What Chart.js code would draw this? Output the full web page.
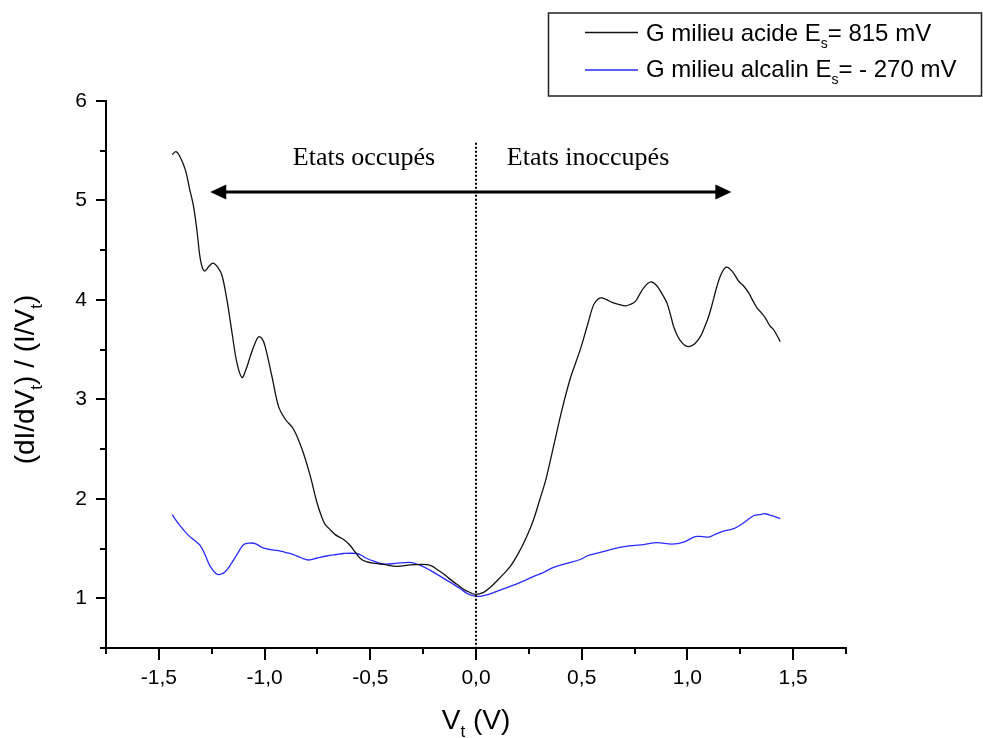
<!DOCTYPE html>
<html>
<head>
<meta charset="utf-8">
<title>Conductance normalisée</title>
<script src="https://cdn.jsdelivr.net/npm/chart.js@4.4.1/dist/chart.umd.min.js"></script>
<style>
  html, body { margin: 0; padding: 0; background: #fff; }
  canvas { display: block; }
</style>
</head>
<body>
<canvas id="chart" width="983" height="738"></canvas>
<script>
// Tension tunnel V_t (V) et conductance normalisée (dI/dV_t)/(I/V_t)
const acideV = [-1.437, -1.419, -1.400, -1.375, -1.355, -1.336, -1.320, -1.303, -1.285, -1.262,
  -1.244, -1.222, -1.202, -1.178, -1.154, -1.131, -1.107, -1.088, -1.068, -1.048,
  -1.028, -1.012, -0.997, -0.965, -0.934, -0.902, -0.863, -0.823, -0.784, -0.752,
  -0.730, -0.713, -0.690, -0.666, -0.626, -0.595, -0.570, -0.547, -0.516, -0.474,
  -0.437, -0.374, -0.311, -0.250, -0.216, -0.184, -0.150, -0.122, -0.090, -0.059,
  -0.030, -0.003, 0.036, 0.068, 0.115, 0.162, 0.210, 0.240, 0.272, 0.300,
  0.330, 0.367, 0.407, 0.446, 0.493, 0.525, 0.556, 0.578, 0.596, 0.620,
  0.643, 0.675, 0.706, 0.730, 0.754, 0.775, 0.793, 0.812, 0.831, 0.852,
  0.872, 0.903, 0.920, 0.935, 0.955, 0.974, 0.990, 1.006, 1.035, 1.061,
  1.080, 1.100, 1.120, 1.140, 1.162, 1.184, 1.211, 1.242, 1.266, 1.290,
  1.310, 1.329, 1.350, 1.368, 1.390, 1.408, 1.439];
const acideG = [5.46, 5.49, 5.44, 5.31, 5.12, 4.94, 4.70, 4.40, 4.29, 4.34,
  4.37, 4.33, 4.25, 4.00, 3.67, 3.37, 3.22, 3.30, 3.43, 3.55,
  3.63, 3.61, 3.53, 3.23, 2.93, 2.80, 2.70, 2.50, 2.23, 1.96,
  1.82, 1.74, 1.69, 1.64, 1.59, 1.53, 1.46, 1.40, 1.365, 1.35,
  1.34, 1.32, 1.335, 1.34, 1.33, 1.29, 1.24, 1.19, 1.14, 1.09,
  1.06, 1.04, 1.06, 1.11, 1.21, 1.32, 1.49, 1.62, 1.79, 1.98,
  2.19, 2.53, 2.90, 3.21, 3.50, 3.73, 3.95, 4.01, 4.02, 4.00,
  3.975, 3.955, 3.94, 3.955, 3.985, 4.06, 4.12, 4.165, 4.18, 4.15,
  4.09, 3.97, 3.85, 3.73, 3.63, 3.57, 3.54, 3.53, 3.56, 3.63,
  3.72, 3.83, 3.98, 4.14, 4.27, 4.33, 4.29, 4.19, 4.14, 4.07,
  3.99, 3.92, 3.87, 3.82, 3.74, 3.70, 3.58];

const alcalinV = [-1.437, -1.400, -1.359, -1.330, -1.304, -1.280, -1.257, -1.230, -1.210, -1.185,
  -1.154, -1.125, -1.099, -1.070, -1.044, -1.010, -0.973, -0.934, -0.900, -0.863,
  -0.830, -0.792, -0.750, -0.706, -0.660, -0.627, -0.563, -0.540, -0.516, -0.480,
  -0.437, -0.380, -0.311, -0.263, -0.220, -0.184, -0.145, -0.106, -0.070, -0.043,
  -0.010, 0.020, 0.060, 0.110, 0.162, 0.210, 0.273, 0.320, 0.367, 0.430,
  0.493, 0.530, 0.564, 0.620, 0.675, 0.740, 0.793, 0.856, 0.927, 0.982,
  1.037, 1.070, 1.100, 1.140, 1.171, 1.219, 1.260, 1.313, 1.340, 1.368,
  1.400, 1.439];
const alcalinG = [1.84, 1.73, 1.63, 1.58, 1.53, 1.43, 1.32, 1.25, 1.24, 1.27,
  1.36, 1.46, 1.54, 1.555, 1.55, 1.51, 1.49, 1.48, 1.46, 1.44,
  1.41, 1.385, 1.405, 1.425, 1.44, 1.45, 1.45, 1.43, 1.40, 1.37,
  1.345, 1.35, 1.36, 1.33, 1.285, 1.24, 1.19, 1.14, 1.09, 1.05,
  1.025, 1.02, 1.04, 1.08, 1.12, 1.16, 1.22, 1.26, 1.31, 1.35,
  1.39, 1.43, 1.45, 1.48, 1.51, 1.53, 1.54, 1.56, 1.545, 1.565,
  1.62, 1.62, 1.615, 1.65, 1.675, 1.70, 1.75, 1.83, 1.84, 1.85,
  1.83, 1.80];

const xMajorTicks = [-1.5, -1.0, -0.5, 0.0, 0.5, 1.0, 1.5];
const xMinorTicks = [-1.75, -1.25, -0.75, -0.25, 0.25, 0.75, 1.25, 1.75];
const yMajorTicks = [1, 2, 3, 4, 5, 6];
const yMinorTicks = [0.5, 1.5, 2.5, 3.5, 4.5, 5.5];

const seriesLabels = [
  [['G milieu acide E', false], ['s', true], ['= 815 mV', false]],
  [['G milieu alcalin E', false], ['s', true], ['= - 270 mV', false]]
];
const seriesColors = ['#111111', '#2a2aff'];
const regionLabels = ['Etats occupés', 'Etats inoccupés'];
const regionLabelX = [-0.53, 0.53];
const regionLabelY = 5.36;
const arrowFrom = -1.257, arrowTo = 1.208, arrowY = 5.086;
const dividerTop = 5.58;

const SANS = '"Liberation Sans", Arial, Helvetica, sans-serif';
const SERIF = '"Liberation Serif", "Times New Roman", serif';

function toPoints(xs, ys) { return xs.map((v, i) => ({ x: v, y: ys[i] })); }

// Text with subscript segments
function drawRich(ctx, parts, x, y, size, align) {
  const subSize = Math.round(size * 0.6);
  let total = 0;
  for (const [t, sub] of parts) {
    ctx.font = (sub ? subSize : size) + 'px ' + SANS;
    total += ctx.measureText(t).width;
  }
  let cx = align === 'center' ? x - total / 2 : x;
  ctx.textAlign = 'left';
  ctx.textBaseline = 'alphabetic';
  for (const [t, sub] of parts) {
    ctx.font = (sub ? subSize : size) + 'px ' + SANS;
    ctx.fillText(t, cx, sub ? y + size * 0.3 : y);
    cx += ctx.measureText(t).width;
  }
}

const decor = {
  id: 'decor',
  afterDatasetsDraw(chart) {
    const { ctx, scales: { x, y } } = chart;
    ctx.save();
    // dotted divider at V_t = 0
    ctx.strokeStyle = '#000';
    ctx.lineWidth = 2;
    ctx.setLineDash([2, 2]);
    ctx.beginPath();
    const x0 = Math.round(x.getPixelForValue(0));
    ctx.moveTo(x0, y.getPixelForValue(dividerTop));
    ctx.lineTo(x0, y.getPixelForValue(y.min));
    ctx.stroke();
    ctx.setLineDash([]);

    // double-headed arrow
    const ay = y.getPixelForValue(arrowY);
    const ax1 = x.getPixelForValue(arrowFrom);
    const ax2 = x.getPixelForValue(arrowTo);
    const hl = 16, hw = 7.5;
    ctx.lineWidth = 3;
    ctx.beginPath();
    ctx.moveTo(ax1 + hl - 2, ay);
    ctx.lineTo(ax2 - hl + 2, ay);
    ctx.stroke();
    ctx.fillStyle = '#000';
    ctx.beginPath();
    ctx.moveTo(ax1, ay); ctx.lineTo(ax1 + hl, ay - hw); ctx.lineTo(ax1 + hl, ay + hw); ctx.closePath();
    ctx.fill();
    ctx.beginPath();
    ctx.moveTo(ax2, ay); ctx.lineTo(ax2 - hl, ay - hw); ctx.lineTo(ax2 - hl, ay + hw); ctx.closePath();
    ctx.fill();

    // region labels
    ctx.font = '26px ' + SERIF;
    ctx.textAlign = 'center';
    ctx.textBaseline = 'alphabetic';
    regionLabels.forEach((t, i) => {
      ctx.fillText(t, x.getPixelForValue(regionLabelX[i]), y.getPixelForValue(regionLabelY));
    });
    ctx.restore();
  },
  afterDraw(chart) {
    const { ctx, scales: { x, y }, chartArea } = chart;
    ctx.save();
    ctx.strokeStyle = '#000';
    ctx.fillStyle = '#000';
    ctx.lineWidth = 2;
    // minor ticks
    ctx.beginPath();
    xMinorTicks.forEach(v => {
      const px = Math.round(x.getPixelForValue(v));
      ctx.moveTo(px, chartArea.bottom);
      ctx.lineTo(px, chartArea.bottom + 6);
    });
    yMinorTicks.forEach(v => {
      const py = Math.round(y.getPixelForValue(v));
      ctx.moveTo(chartArea.left, py);
      ctx.lineTo(chartArea.left - 6, py);
    });
    ctx.stroke();

    // axis titles
    drawRich(ctx, [['V', false], ['t', true], [' (V)', false]],
      (chartArea.left + chartArea.right) / 2, 729, 28, 'center');
    ctx.save();
    ctx.translate(34, (chartArea.top + chartArea.bottom) / 2 + 5);
    ctx.rotate(-Math.PI / 2);
    drawRich(ctx, [['(dI/dV', false], ['t', true], [') / (I/V', false], ['t', true], [')', false]],
      0, 0, 28, 'center');
    ctx.restore();

    // legend box
    ctx.lineWidth = 1.5;
    ctx.strokeStyle = '#222';
    ctx.strokeRect(548.5, 13, 433, 83);
    const rows = [32.5, 70];
    const bases = [41, 77];
    seriesLabels.forEach((parts, i) => {
      ctx.strokeStyle = seriesColors[i];
      ctx.lineWidth = 1.3;
      ctx.beginPath();
      ctx.moveTo(585, rows[i]);
      ctx.lineTo(638, rows[i]);
      ctx.stroke();
      ctx.fillStyle = '#000';
      drawRich(ctx, parts, 646, bases[i], 24, 'left');
    });
    ctx.restore();
  }
};

new Chart(document.getElementById('chart'), {
  type: 'line',
  data: {
    datasets: [
      {
        label: 'G milieu acide Es= 815 mV',
        data: toPoints(acideV, acideG),
        borderColor: seriesColors[0],
        borderWidth: 1.3,
        pointRadius: 0,
        fill: false,
        tension: 0.35
      },
      {
        label: 'G milieu alcalin Es= - 270 mV',
        data: toPoints(alcalinV, alcalinG),
        borderColor: seriesColors[1],
        borderWidth: 1.3,
        pointRadius: 0,
        fill: false,
        tension: 0.35
      }
    ]
  },
  options: {
    responsive: false,
    animation: false,
    events: [],
    layout: { padding: { top: 101, right: 137, left: 0, bottom: 0 } },
    plugins: { legend: { display: false }, tooltip: { enabled: false }, title: { display: false } },
    scales: {
      x: {
        type: 'linear',
        min: -1.75,
        max: 1.75,
        afterFit: s => { s.height = 90; },
        afterBuildTicks: s => { s.ticks = xMajorTicks.map(v => ({ value: v })); },
        border: { display: true, color: '#000', width: 2 },
        grid: { display: true, drawOnChartArea: false, drawTicks: true, tickLength: 12, color: '#000', lineWidth: 2 },
        ticks: {
          color: '#000',
          padding: 6,
          maxRotation: 0,
          autoSkip: false,
          font: { family: SANS, size: 21 },
          callback: v => v.toFixed(1).replace('.', ',')
        }
      },
      y: {
        type: 'linear',
        min: 0.5,
        max: 6,
        afterFit: s => { s.width = 106; },
        afterBuildTicks: s => { s.ticks = yMajorTicks.map(v => ({ value: v })); },
        border: { display: true, color: '#000', width: 2 },
        grid: { display: true, drawOnChartArea: false, drawTicks: true, tickLength: 10, color: '#000', lineWidth: 2 },
        ticks: {
          color: '#000',
          padding: 9,
          autoSkip: false,
          font: { family: SANS, size: 21 },
          callback: v => String(v)
        }
      }
    }
  },
  plugins: [decor]
});
</script>
</body>
</html>
